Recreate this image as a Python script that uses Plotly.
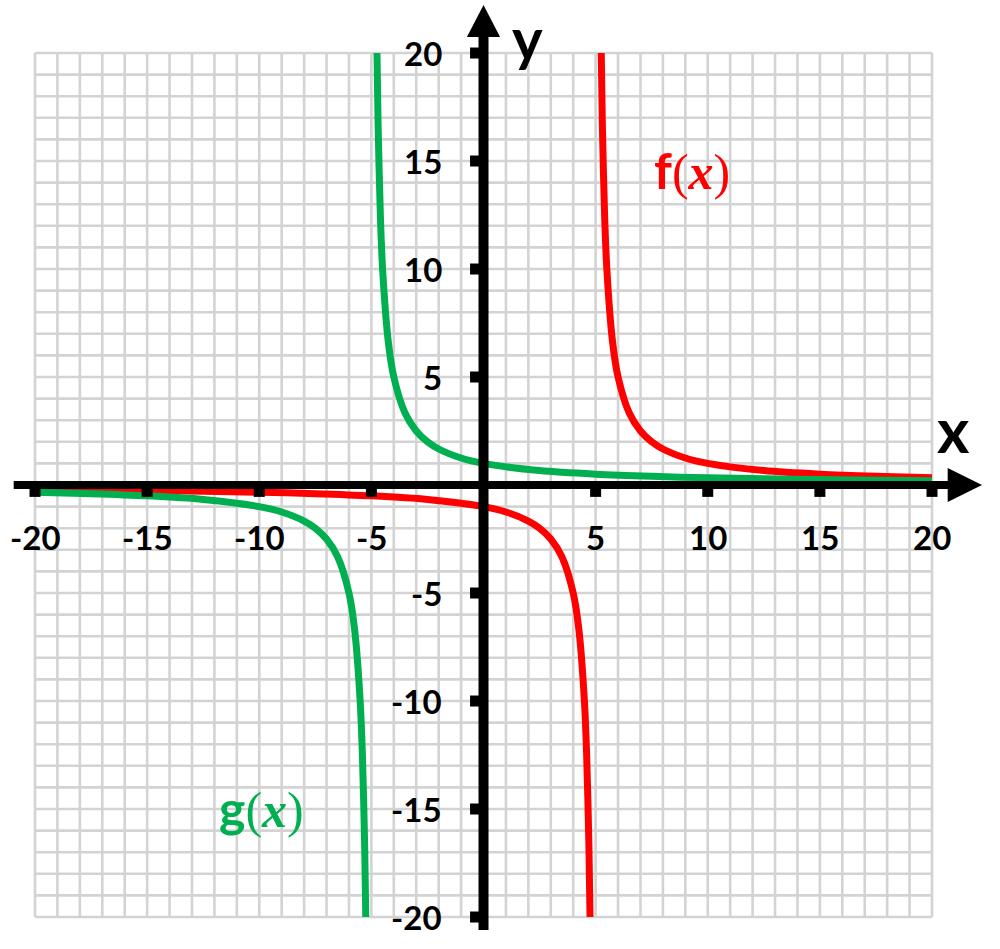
import plotly.graph_objects as go

# ---- data ----
f_left_x = [-20, -17.5, -15, -12.5, -10, -7.5, -5, -2.5, 0, 1, 2, 2.5, 3, 3.5, 4, 4.25, 4.5, 4.6, 4.7, 4.75]
f_left_y = [-0.2, -0.222, -0.25, -0.286, -0.333, -0.4, -0.5, -0.667, -1, -1.25, -1.667, -2, -2.5, -3.333, -5, -6.667, -10, -12.5, -16.67, -20]
f_right_x = [5.25, 5.3, 5.4, 5.5, 5.75, 6, 6.5, 7, 7.5, 8, 9, 10, 12.5, 15, 17.5, 20]
f_right_y = [20, 16.67, 12.5, 10, 6.667, 5, 3.333, 2.5, 2, 1.667, 1.25, 1, 0.667, 0.5, 0.4, 0.333]

g_left_x = [-20, -17.5, -15, -12.5, -10, -9, -8, -7.5, -7, -6.5, -6, -5.75, -5.5, -5.4, -5.3, -5.25]
g_left_y = [-0.333, -0.4, -0.5, -0.667, -1, -1.25, -1.667, -2, -2.5, -3.333, -5, -6.667, -10, -12.5, -16.67, -20]
g_right_x = [-4.75, -4.7, -4.6, -4.5, -4.25, -4, -3.5, -3, -2.5, -2, -1, 0, 2.5, 5, 7.5, 10, 12.5, 15, 17.5, 20]
g_right_y = [20, 16.67, 12.5, 10, 6.667, 5, 3.333, 2.5, 2, 1.667, 1.25, 1, 0.667, 0.5, 0.4, 0.333, 0.286, 0.25, 0.222, 0.2]

tick_values = [-20, -15, -10, -5, 5, 10, 15, 20]
tick_labels = ["-20", "-15", "-10", "-5", "5", "10", "15", "20"]
grid_values = list(range(-20, 21))

RED = "#FF0000"
GREEN = "#00B050"
GRID = "#d3d3d3"
LABEL_FONT = "Lato"

fig = go.Figure()

for xs, ys, col in [(f_left_x, f_left_y, RED), (f_right_x, f_right_y, RED),
                    (g_left_x, g_left_y, GREEN), (g_right_x, g_right_y, GREEN)]:
    fig.add_trace(go.Scatter(x=xs, y=ys, mode="lines",
                             line=dict(color=col, width=7, shape="spline", smoothing=0.8),
                             hoverinfo="skip", showlegend=False))

shapes = []
# grid
for v in grid_values:
    shapes.append(dict(type="line", xref="x", yref="y", x0=v, x1=v, y0=-20, y1=20,
                       line=dict(color=GRID, width=2.6), layer="below"))
    shapes.append(dict(type="line", xref="x", yref="y", x0=-20, x1=20, y0=v, y1=v,
                       line=dict(color=GRID, width=2.6), layer="below"))

# axes
shapes.append(dict(type="line", xref="x", yref="y", x0=-20.95, x1=20.8, y0=0, y1=0,
                   line=dict(color="black", width=8), layer="above"))
shapes.append(dict(type="line", xref="x", yref="y", x0=0, x1=0, y0=-20.6, y1=20.8,
                   line=dict(color="black", width=10), layer="above"))
# arrowheads
shapes.append(dict(type="path", xref="x", yref="y",
                   path="M 20.7,0.79 L 22.23,0 L 20.7,-0.79 Z",
                   fillcolor="black", line=dict(color="black", width=0), layer="above"))
shapes.append(dict(type="path", xref="x", yref="y",
                   path="M -0.74,20.74 L 0,22.22 L 0.74,20.74 Z",
                   fillcolor="black", line=dict(color="black", width=0), layer="above"))
# tick marks
for v in tick_values:
    shapes.append(dict(type="line", xref="x", yref="y", x0=v, x1=v, y0=0, y1=-0.55,
                       line=dict(color="black", width=11), layer="above"))
    shapes.append(dict(type="line", xref="x", yref="y", x0=-0.6, x1=0, y0=v, y1=v,
                       line=dict(color="black", width=11), layer="above"))

annotations = []
for v, t in zip(tick_values, tick_labels):
    annotations.append(dict(x=v, y=-2.4, xref="x", yref="y", text=t, showarrow=False,
                            xanchor="center", yanchor="middle",
                            font=dict(family=LABEL_FONT, size=33, color="black", weight="bold")))
    annotations.append(dict(x=-1.75, y=v, xref="x", yref="y", text=t, showarrow=False,
                            xanchor="right", yanchor="middle",
                            font=dict(family=LABEL_FONT, size=33, color="black", weight="bold")))

annotations.append(dict(x=20.94, y=2.6, xref="x", yref="y", text="x", showarrow=False,
                        xanchor="center", yanchor="middle",
                        font=dict(family=LABEL_FONT, size=62, color="black", weight="bold")))
annotations.append(dict(x=1.94, y=22.4, xref="x", yref="y", text="y", showarrow=False,
                        xanchor="center", yanchor="top",
                        font=dict(family=LABEL_FONT, size=58, color="black", weight="bold")))

annotations.append(dict(x=9.3, y=14.58, xref="x", yref="y",
                        text="<b>f</b><span style=\"font-family:'Liberation Serif'\">(<b><i>x</i></b>)</span>",
                        showarrow=False, xanchor="center", yanchor="middle",
                        font=dict(family=LABEL_FONT, size=50, color=RED)))
annotations.append(dict(x=-9.88, y=-14.95, xref="x", yref="y",
                        text="<b>g</b><span style=\"font-family:'Liberation Serif'\">(<b><i>x</i></b>)</span>",
                        showarrow=False, xanchor="center", yanchor="middle",
                        font=dict(family=LABEL_FONT, size=50, color=GREEN)))

fig.update_layout(
    width=1000, height=949, autosize=False,
    margin=dict(l=0, r=0, t=0, b=0, pad=0),
    paper_bgcolor="white", plot_bgcolor="white",
    shapes=shapes, annotations=annotations,
    xaxis=dict(range=[-21.561, 23.032], visible=False, fixedrange=True),
    yaxis=dict(range=[-21.481, 22.454], visible=False, fixedrange=True),
    showlegend=False,
)

fig.write_html("out.html", config={"displayModeBar": False},
               post_script="document.body.style.margin='0';")
